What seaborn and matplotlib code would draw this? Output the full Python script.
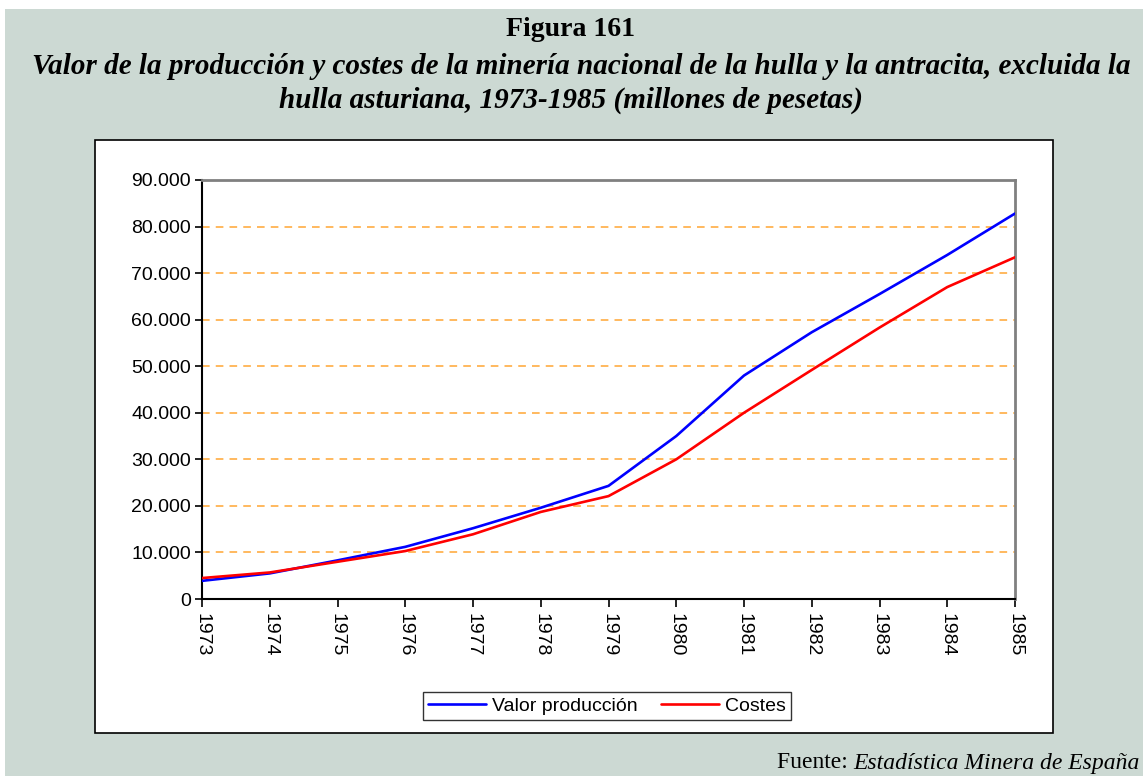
#!/usr/bin/env python3
"""
Figura 161: valor de la producción y costes de la minería nacional
de la hulla y la antracita (sin la hulla asturiana), 1973-1985
"""

import matplotlib
matplotlib.use("Agg")
import matplotlib.pyplot as plt
from matplotlib.patches import Rectangle
from matplotlib.ticker import FuncFormatter
import seaborn as sns
import pandas as pd

# datos (millones de pesetas)
years = [1973, 1974, 1975, 1976, 1977, 1978, 1979, 1980, 1981, 1982, 1983, 1984, 1985]
valor_produccion = [3900, 5500, 8300, 11200, 15200, 19600, 24300, 35000, 48000, 57300, 65500, 73900, 82800]
costes = [4500, 5700, 8000, 10300, 13900, 18700, 22100, 30000, 40000, 49200, 58300, 67000, 73400]

series_names = ["Valor producción", "Costes"]
series_colors = ["#0000FF", "#FF0000"]
y_ticks = list(range(0, 90001, 10000))

title_1 = "Figura 161"
title_2 = ("Valor de la producción y costes de la minería nacional de la hulla "
           "y la antracita, excluida la")
title_3 = "hulla asturiana, 1973-1985 (millones de pesetas)"

# tabla larga para seaborn
df = pd.DataFrame({
    "year": years * 2,
    "value": valor_produccion + costes,
    "serie": [series_names[0]] * len(years) + [series_names[1]] * len(years),
})

sns.set_theme(style="white")
plt.rcParams["font.family"] = ["Liberation Sans", "DejaVu Sans"]
plt.rcParams["text.color"] = "black"
plt.rcParams["xtick.color"] = "black"
plt.rcParams["ytick.color"] = "black"

W, H = 1143, 776
fig = plt.figure(figsize=(W / 100, H / 100), dpi=100)
fig.patch.set_facecolor("white")


def px(x0, y0, x1, y1):
    """caja en píxeles (origen arriba a la izquierda) -> coords de figura"""
    return x0 / W, 1 - y1 / H, (x1 - x0) / W, (y1 - y0) / H


# fondo verde y panel blanco
bg = px(5, 9, W, H)
fig.patches.append(Rectangle(bg[:2], *bg[2:], transform=fig.transFigure,
                             facecolor="#CCD9D3", edgecolor="none", zorder=0))
pn = px(95, 140, 1053, 733)
fig.patches.append(Rectangle(pn[:2], *pn[2:], transform=fig.transFigure,
                             facecolor="white", edgecolor="black", linewidth=1.2,
                             zorder=1))

# títulos
fig.text(571 / W, 1 - 29 / H, title_1, ha="center", va="center", fontsize=20,
         fontweight="bold", family="Liberation Serif")
fig.text(581 / W, 1 - 67 / H, title_2, ha="center", va="center", fontsize=21,
         fontweight="bold", fontstyle="italic", family="Liberation Serif")
fig.text(571 / W, 1 - 100 / H, title_3, ha="center", va="center", fontsize=21,
         fontweight="bold", fontstyle="italic", family="Liberation Serif")

# área de trazado
x0, y0, x1, y1 = 202, 180, 1015, 599
ax = fig.add_axes(px(x0, y0, x1, y1))
ax.set_zorder(2)
ax.set_facecolor("white")

for yv in y_ticks[1:-1]:
    ax.axhline(yv, color="#FFA633", linestyle=(0, (5, 4)), linewidth=1.1, zorder=1)

sns.lineplot(data=df, x="year", y="value", hue="serie",
             palette=dict(zip(series_names, series_colors)),
             linewidth=1.9, ax=ax, legend=False, zorder=3)

ax.set_xlim(years[0], years[-1])
ax.set_ylim(y_ticks[0], y_ticks[-1])
ax.set_xticks(years)
ax.set_xticklabels([str(y) for y in years], rotation=-90, fontsize=14)
ax.set_yticks(y_ticks)
ax.yaxis.set_major_formatter(FuncFormatter(lambda v, p: f"{int(v):,}".replace(",", ".")))
ax.tick_params(axis="y", labelsize=14, length=5, width=1.2, direction="out",
               left=True, pad=3, colors="black")
ax.tick_params(axis="x", length=6, width=1.2, direction="out", bottom=True, pad=4,
               colors="black")
ax.set_xlabel("")
ax.set_ylabel("")

for side in ["left", "bottom"]:
    ax.spines[side].set_color("black")
    ax.spines[side].set_linewidth(1.5)
for side in ["top", "right"]:
    ax.spines[side].set_color("#808080")
    ax.spines[side].set_linewidth(2)

# leyenda
handles = [plt.Line2D([], [], color=c, linewidth=1.9) for c in series_colors]
leg = fig.legend(handles, series_names, loc="center",
                 bbox_to_anchor=(607 / W, 1 - 706 / H), ncol=2, fontsize=14,
                 frameon=True, fancybox=False, edgecolor="black",
                 handlelength=3.0, handletextpad=0.3, columnspacing=1.2,
                 borderpad=0.25)
leg.get_frame().set_linewidth(1.0)
leg.set_zorder(5)
for t in leg.get_texts():
    t.set_color("black")

# fuente
src = fig.text(1140 / W, 1 - 763 / H, "Estadística Minera de España", ha="right",
               va="center", fontsize=17, fontstyle="italic", family="Liberation Serif")
fig.canvas.draw()
bb = src.get_window_extent()
fig.text(bb.x0 / W, 1 - 763 / H, "Fuente: ", ha="right", va="center", fontsize=17,
         family="Liberation Serif")

fig.savefig("out.png", dpi=100)
plt.close(fig)
